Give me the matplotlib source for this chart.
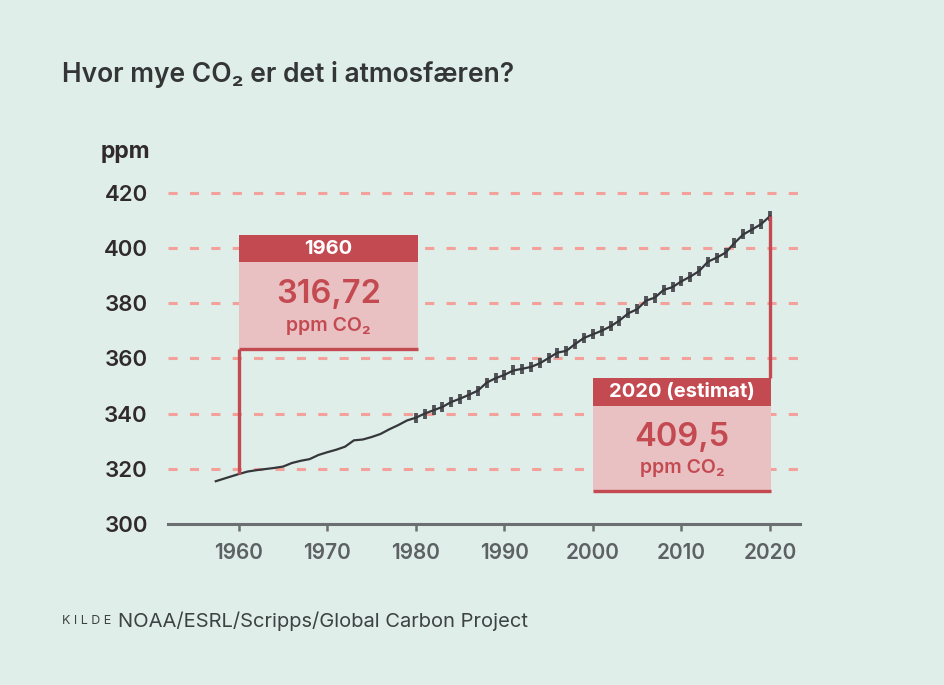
import matplotlib
matplotlib.use("Agg")
import matplotlib.pyplot as plt
from matplotlib.patches import Rectangle

plt.rcParams['font.family'] = ['Inter', 'DejaVu Sans']

# --- data ---
early_years = [1957.4, 1958, 1959, 1960, 1961, 1962, 1963, 1964, 1965, 1966,
               1967, 1968, 1969, 1970, 1971, 1972, 1973, 1974, 1975, 1976,
               1977, 1978, 1979]
early_ppm = [315.5, 316.1, 317.1, 318.1, 319.0, 319.5, 319.9, 320.3, 320.8, 322.1,
             322.9, 323.5, 325.0, 326.0, 326.9, 328.0, 330.3, 330.6, 331.5, 332.6,
             334.3, 335.8, 337.5]

# yearly values with uncertainty markers (1980-2020)
years = list(range(1980, 2021))
ppm = [338.5, 340.0, 341.2, 342.4, 344.2, 345.4, 346.8, 348.3, 351.2, 352.8,
       354.0, 355.6, 356.2, 356.9, 358.2, 360.1, 362.1, 362.7, 365.2, 367.4,
       368.7, 370.0, 371.6, 373.7, 376.3, 377.8, 380.9, 382.0, 384.8, 385.8,
       387.9, 389.6, 391.6, 395.0, 396.5, 398.3, 401.8, 404.9, 406.7, 408.6,
       411.5]

yticks = [300, 320, 340, 360, 380, 400, 420]
xticks = [1960, 1970, 1980, 1990, 2000, 2010, 2020]

callouts = [
    # box x-range, box y-range (bottom, header bottom, top)
    dict(year=1960, head="1960", value="316,72", x0=1960, x1=1980.3,
         y_bot=363.4, y_mid=394.8, y_top=404.7),
    dict(year=2020, head="2020 (estimat)", value="409,5", x0=2000, x1=2020.15,
         y_bot=312.1, y_mid=342.8, y_top=352.8),
]

# --- colours ---
BG = '#e0eee9'
RED = '#c44a52'
PINK = '#e9c1c3'
GRID = '#f4a19c'
LINE = '#35373a'
MARK = '#525359'
AXIS = '#6c6f71'

fig = plt.figure(figsize=(9.45, 6.85), dpi=100, facecolor=BG)
W, H = 945, 685
ax = fig.add_axes([168 / W, (H - 524) / H, (800 - 168) / W, (524 - 178.9) / H])
ax.set_facecolor(BG)
ax.set_xlim(1952.0, 2023.4)
ax.set_ylim(300, 425)

# dashed grid
for y in yticks[1:]:
    ax.axhline(y, color=GRID, lw=2.2, dashes=(3, 4), zorder=1)

for s in ['top', 'right', 'left']:
    ax.spines[s].set_visible(False)
ax.spines['bottom'].set_color(AXIS)
ax.spines['bottom'].set_linewidth(2.2)

ax.set_xticks(xticks)
ax.set_xticklabels([str(x) for x in xticks])
ax.set_yticks(yticks)
ax.set_yticklabels([str(y) for y in yticks])
ax.tick_params(axis='x', length=5, width=1.8, color=AXIS, pad=9,
               labelsize=15, labelcolor='#5e6164')
ax.tick_params(axis='y', length=0, pad=14.5, labelsize=16, labelcolor='#302a2c')
for lab in ax.get_xticklabels() + ax.get_yticklabels():
    lab.set_fontweight('semibold')

# the curve
ax.plot(early_years + years, early_ppm + ppm, color=LINE, lw=1.6, zorder=4,
        solid_joinstyle='round')
ax.plot(years, ppm, ls='none', marker='|', markersize=7.5, mew=2.8,
        color=MARK, zorder=3)

# callout boxes
for c in callouts:
    w = c['x1'] - c['x0']
    ax.add_patch(Rectangle((c['x0'], c['y_bot']), w, c['y_mid'] - c['y_bot'],
                           facecolor=PINK, edgecolor='none', zorder=5))
    ax.add_patch(Rectangle((c['x0'], c['y_mid']), w, c['y_top'] - c['y_mid'],
                           facecolor=RED, edgecolor='none', zorder=5))
    ax.plot([c['x0'], c['x1']], [c['y_bot'], c['y_bot']], color=RED, lw=2.4,
            zorder=6, solid_capstyle='butt')
    xm = (c['x0'] + c['x1']) / 2
    ax.text(xm, (c['y_mid'] + c['y_top']) / 2, c['head'], color='white',
            fontsize=14.5, fontweight='bold', ha='center', va='center', zorder=7)
    ax.text(xm, c['y_bot'] + (c['y_mid'] - c['y_bot']) * 0.63, c['value'],
            color=RED, fontsize=23.5, fontweight='semibold', ha='center',
            va='center', zorder=7)
    ax.text(xm, c['y_bot'] + (c['y_mid'] - c['y_bot']) * 0.27, 'ppm CO₂',
            color=RED, fontsize=14, fontweight='semibold', ha='center',
            va='center', zorder=7)

# connector lines from curve to boxes
v1960 = early_ppm[early_years.index(1960)]
ax.plot([1960, 1960], [v1960, callouts[0]['y_bot']], color=RED, lw=2.4,
        zorder=6, solid_capstyle='butt')
ax.plot([2020, 2020], [ppm[-1], callouts[1]['y_top']], color=RED, lw=2.4,
        zorder=6, solid_capstyle='butt')

# titles and labels
fig.text(62 / W, 1 - 75 / H, 'Hvor mye CO₂ er det i atmosfæren?', fontsize=19,
         fontweight='semibold', color='#333536', ha='left', va='center')
fig.text(150 / W, 1 - 152 / H, 'ppm', fontsize=16.5, fontweight='bold',
         color='#302a2c', ha='right', va='center')
fig.text(62 / W, 1 - 621 / H, 'K I L D E', fontsize=9, color='#3d4242',
         ha='left', va='center')
fig.text(118 / W, 1 - 621 / H, 'NOAA/ESRL/Scripps/Global Carbon Project',
         fontsize=14.5, color='#3d4242', ha='left', va='center')

fig.savefig('out.png', dpi=100, facecolor=BG)
